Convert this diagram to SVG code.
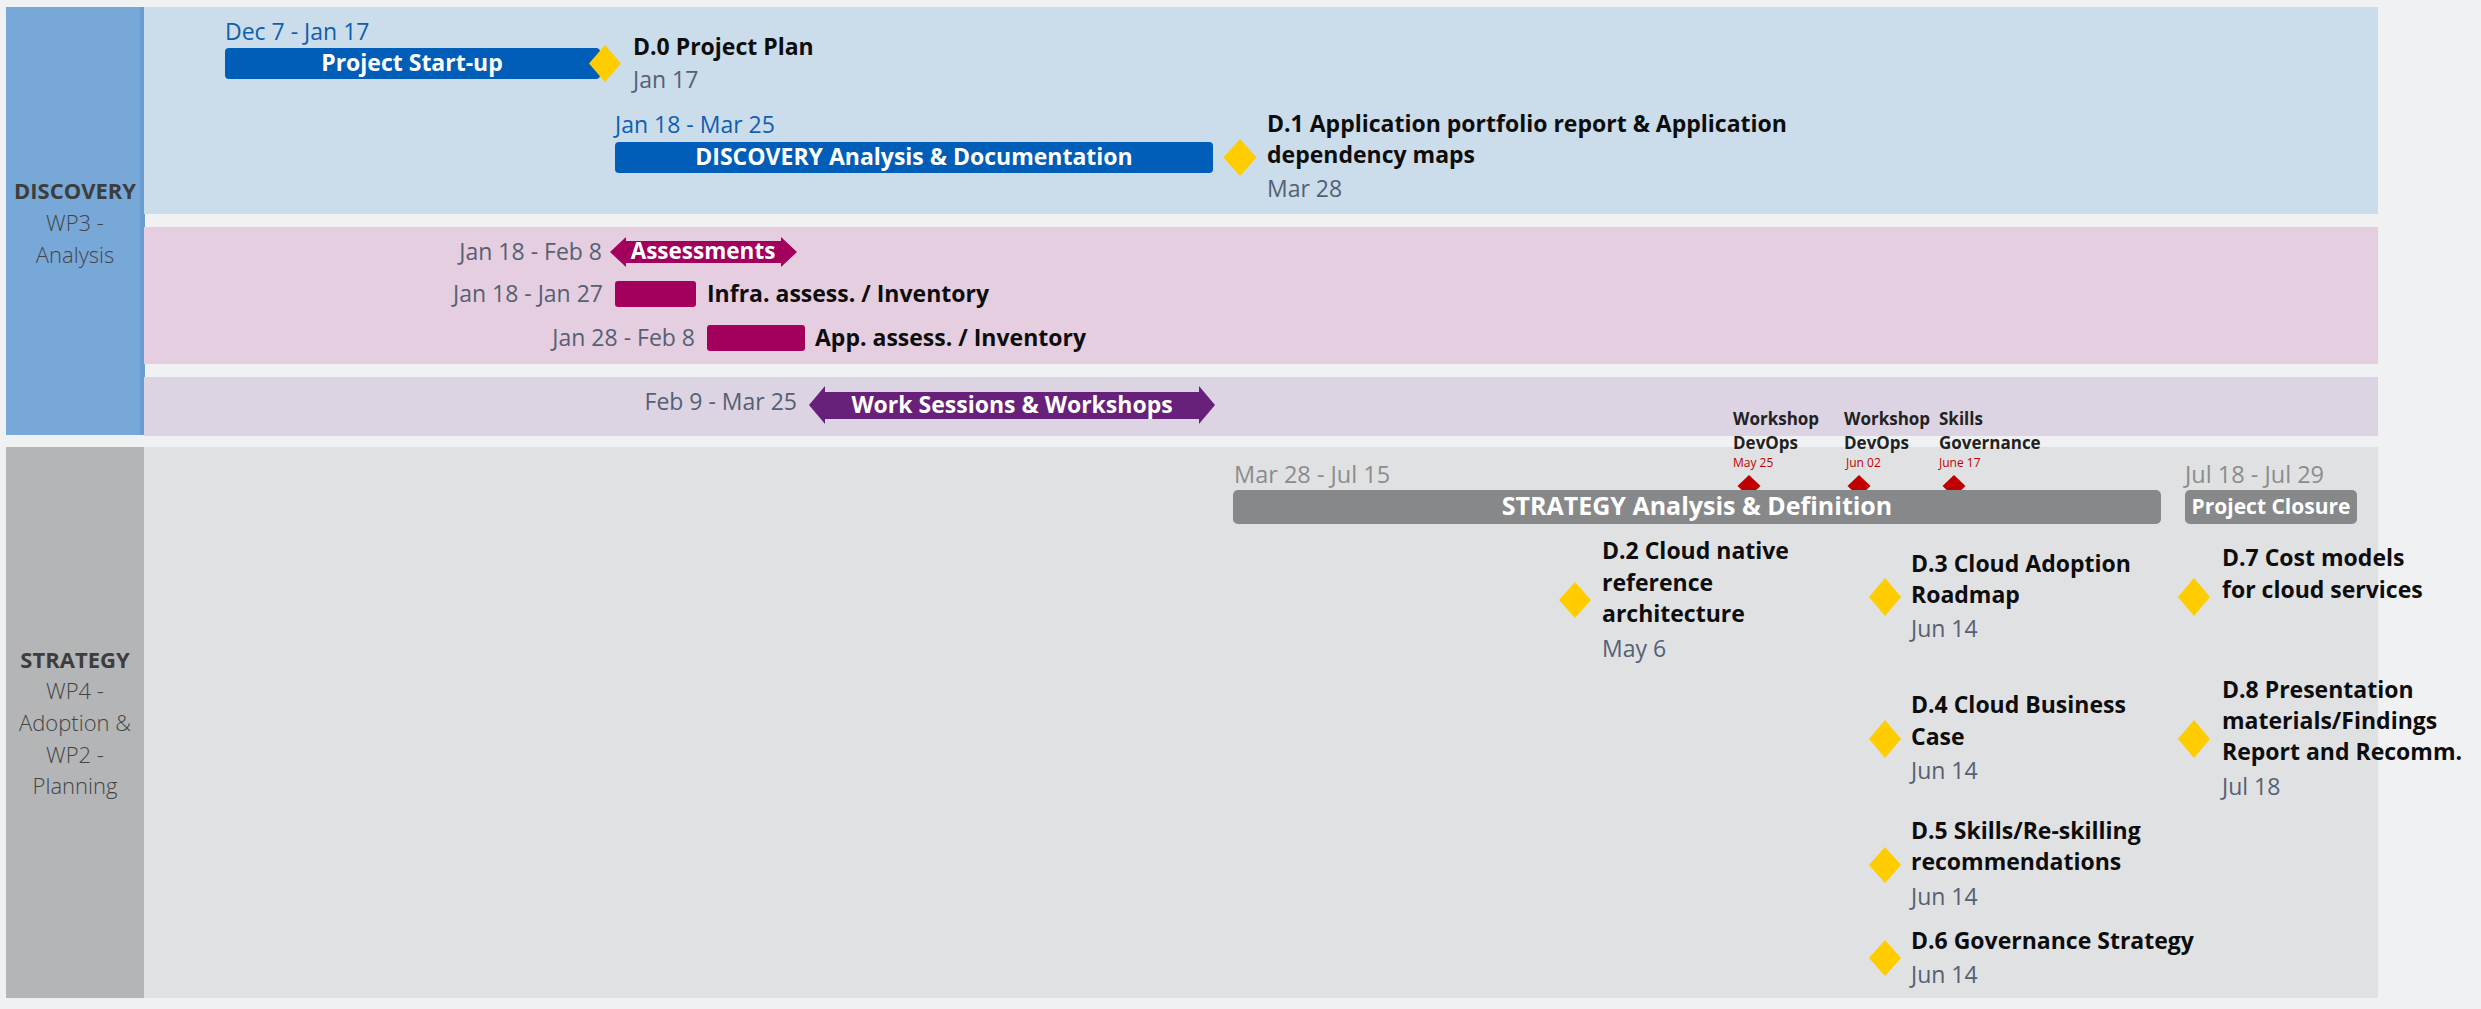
<svg xmlns="http://www.w3.org/2000/svg" width="2481" height="1009" viewBox="0 0 2481 1009">
<defs>
<style>
.lane{font-family:"Open Sans","Noto Sans",sans-serif;font-size:22px;fill:#444;text-anchor:middle}
.laneb{font-weight:700;fill:#3d3d3d}
.lanel{font-weight:300}
.t{font-family:"Open Sans","Noto Sans",sans-serif;font-size:23px;font-weight:700;fill:#0d0d0d}
.d{font-family:"Open Sans","Noto Sans",sans-serif;font-size:23px;fill:#556073}
.db{font-family:"Open Sans","Noto Sans",sans-serif;font-size:23px;fill:#0f5fb0}
.dg{font-family:"Open Sans","Noto Sans",sans-serif;font-size:23.5px;fill:#8c8c8c}
.bt{font-family:"Open Sans","Noto Sans",sans-serif;font-size:23px;font-weight:700;fill:#fff;text-anchor:middle}
.r{text-anchor:end}
.ws{font-family:"Open Sans","Noto Sans",sans-serif;font-size:17px;font-weight:700;fill:#222}
.wd{font-family:"Open Sans","Noto Sans",sans-serif;font-size:12px;fill:#c00000}
.ms{fill:#ffcc00}
.rd{fill:#c00000}
.blue{fill:#005eb8}
.mag{fill:#a3005e}
.grey{fill:#878889}
</style>
</defs>
<rect x="0" y="0" width="2481" height="1009" fill="#f0f1f3"/>

<g id="discovery-lane">
<rect x="6" y="7" width="138" height="428" fill="#78a8d8"/>
<rect x="140" y="7" width="5" height="428" fill="#6c9dd2"/>
<rect x="144" y="7" width="2234" height="207" fill="#cbdcea"/>
<rect x="144" y="227" width="2234" height="137" fill="#e5cee0"/>
<rect x="144" y="377" width="2234" height="59" fill="#dcd3e3"/>
<text class="lane laneb" x="75" y="199">DISCOVERY</text>
<text class="lane lanel" x="75" y="231">WP3 -</text>
<text class="lane lanel" x="75" y="263">Analysis</text>
</g>

<g id="strategy-lane">
<rect x="6" y="447" width="138" height="551" fill="#b4b5b7"/>
<rect x="144" y="447" width="2234" height="551" fill="#e0e1e3"/>
<text class="lane laneb" x="75" y="668">STRATEGY</text>
<text class="lane lanel" x="75" y="699">WP4 -</text>
<text class="lane lanel" x="75" y="731">Adoption &amp;</text>
<text class="lane lanel" x="75" y="763">WP2 -</text>
<text class="lane lanel" x="75" y="794">Planning</text>
</g>

<g id="project-startup">
<text class="db" x="225" y="40">Dec 7 - Jan 17</text>
<rect class="blue" x="225" y="48" width="375" height="31" rx="4"/>
<text class="bt" x="412" y="71">Project Start-up</text>
</g>
<g id="d0">
<polygon class="ms" points="605,45 621,63.5 605,82 589,63.5"/>
<text class="t" x="633" y="55">D.0 Project Plan</text>
<text class="d" x="633" y="88">Jan 17</text>
</g>

<g id="discovery-analysis">
<text class="db" x="615" y="133">Jan 18 - Mar 25</text>
<rect class="blue" x="615" y="142" width="598" height="31" rx="4"/>
<text class="bt" x="914" y="165">DISCOVERY Analysis &amp; Documentation</text>
</g>
<g id="d1">
<polygon class="ms" points="1240,139 1256.5,157.5 1240,176 1223.5,157.5"/>
<text class="t" x="1267" y="132">D.1 Application portfolio report &amp; Application</text>
<text class="t" x="1267" y="163">dependency maps</text>
<text class="d" x="1267" y="197">Mar 28</text>
</g>

<g id="assessments">
<text class="d r" x="602" y="260">Jan 18 - Feb 8</text>
<path class="mag" d="M610,252 L626,237 L626,241 L781,241 L781,237 L797,252 L781,267 L781,263 L626,263 L626,267 Z"/>
<text class="bt" x="703" y="259" style="font-size:22.5px">Assessments</text>
</g>
<g id="infra-assess">
<text class="d r" x="603" y="302">Jan 18 - Jan 27</text>
<rect class="mag" x="615" y="281" width="81" height="26" rx="3"/>
<text class="t" x="707" y="302">Infra. assess. / Inventory</text>
</g>
<g id="app-assess">
<text class="d r" x="695" y="346">Jan 28 - Feb 8</text>
<rect class="mag" x="707" y="325" width="98" height="26" rx="3"/>
<text class="t" x="815" y="346">App. assess. / Inventory</text>
</g>

<g id="work-sessions">
<text class="d r" x="797" y="410">Feb 9 - Mar 25</text>
<path fill="#68217a" d="M809,405 L825,386 L825,392 L1199,392 L1199,386 L1215,405 L1199,424 L1199,419 L825,419 L825,424 Z"/>
<text class="bt" x="1012" y="413">Work Sessions &amp; Workshops</text>
</g>

<g id="workshop-devops-1">
<text class="ws" x="1733" y="425">Workshop</text>
<text class="ws" x="1733" y="449">DevOps</text>
<text class="wd" x="1733" y="467">May 25</text>
<polygon class="rd" points="1749,475 1760.5,486 1749,497 1737.5,486"/>
</g>
<g id="workshop-devops-2">
<text class="ws" x="1844" y="425">Workshop</text>
<text class="ws" x="1844" y="449">DevOps</text>
<text class="wd" x="1846" y="467">Jun 02</text>
<polygon class="rd" points="1859,475 1870.5,486 1859,497 1847.5,486"/>
</g>
<g id="skills-governance">
<text class="ws" x="1939" y="425">Skills</text>
<text class="ws" x="1939" y="449">Governance</text>
<text class="wd" x="1939" y="467">June 17</text>
<polygon class="rd" points="1954,475 1965.5,486 1954,497 1942.5,486"/>
</g>

<g id="strategy-analysis">
<text class="dg" x="1234" y="483">Mar 28 - Jul 15</text>
<rect class="grey" x="1233" y="490" width="928" height="34" rx="5"/>
<text class="bt" x="1697" y="515" style="font-size:25px">STRATEGY Analysis &amp; Definition</text>
</g>
<g id="project-closure">
<text class="dg" x="2185" y="483">Jul 18 - Jul 29</text>
<rect class="grey" x="2185" y="490" width="172" height="34" rx="5"/>
<text class="bt" x="2271" y="514" style="font-size:21px">Project Closure</text>
</g>

<g id="d2">
<polygon class="ms" points="1575,582 1591,600 1575,618 1559,600"/>
<text class="t" x="1602" y="559">D.2 Cloud native</text>
<text class="t" x="1602" y="591">reference</text>
<text class="t" x="1602" y="622">architecture</text>
<text class="d" x="1602" y="657">May 6</text>
</g>
<g id="d3">
<polygon class="ms" points="1885,578 1901,597 1885,616 1869,597"/>
<text class="t" x="1911" y="572">D.3 Cloud Adoption</text>
<text class="t" x="1911" y="603">Roadmap</text>
<text class="d" x="1911" y="637">Jun 14</text>
</g>
<g id="d7">
<polygon class="ms" points="2194,578 2210,597 2194,616 2178,597"/>
<text class="t" x="2222" y="566">D.7 Cost models</text>
<text class="t" x="2222" y="598">for cloud services</text>
</g>
<g id="d4">
<polygon class="ms" points="1885,720 1901,739 1885,758 1869,739"/>
<text class="t" x="1911" y="713">D.4 Cloud Business</text>
<text class="t" x="1911" y="745">Case</text>
<text class="d" x="1911" y="779">Jun 14</text>
</g>
<g id="d8">
<polygon class="ms" points="2194,720 2210,739 2194,758 2178,739"/>
<text class="t" x="2222" y="698">D.8 Presentation</text>
<text class="t" x="2222" y="729">materials/Findings</text>
<text class="t" x="2222" y="760">Report and Recomm.</text>
<text class="d" x="2222" y="795">Jul 18</text>
</g>
<g id="d5">
<polygon class="ms" points="1885,847 1901,865 1885,883 1869,865"/>
<text class="t" x="1911" y="839">D.5 Skills/Re-skilling</text>
<text class="t" x="1911" y="870">recommendations</text>
<text class="d" x="1911" y="905">Jun 14</text>
</g>
<g id="d6">
<polygon class="ms" points="1885,940 1901,958 1885,976 1869,958"/>
<text class="t" x="1911" y="949">D.6 Governance Strategy</text>
<text class="d" x="1911" y="983">Jun 14</text>
</g>

<g id="connectors"/>
</svg>
